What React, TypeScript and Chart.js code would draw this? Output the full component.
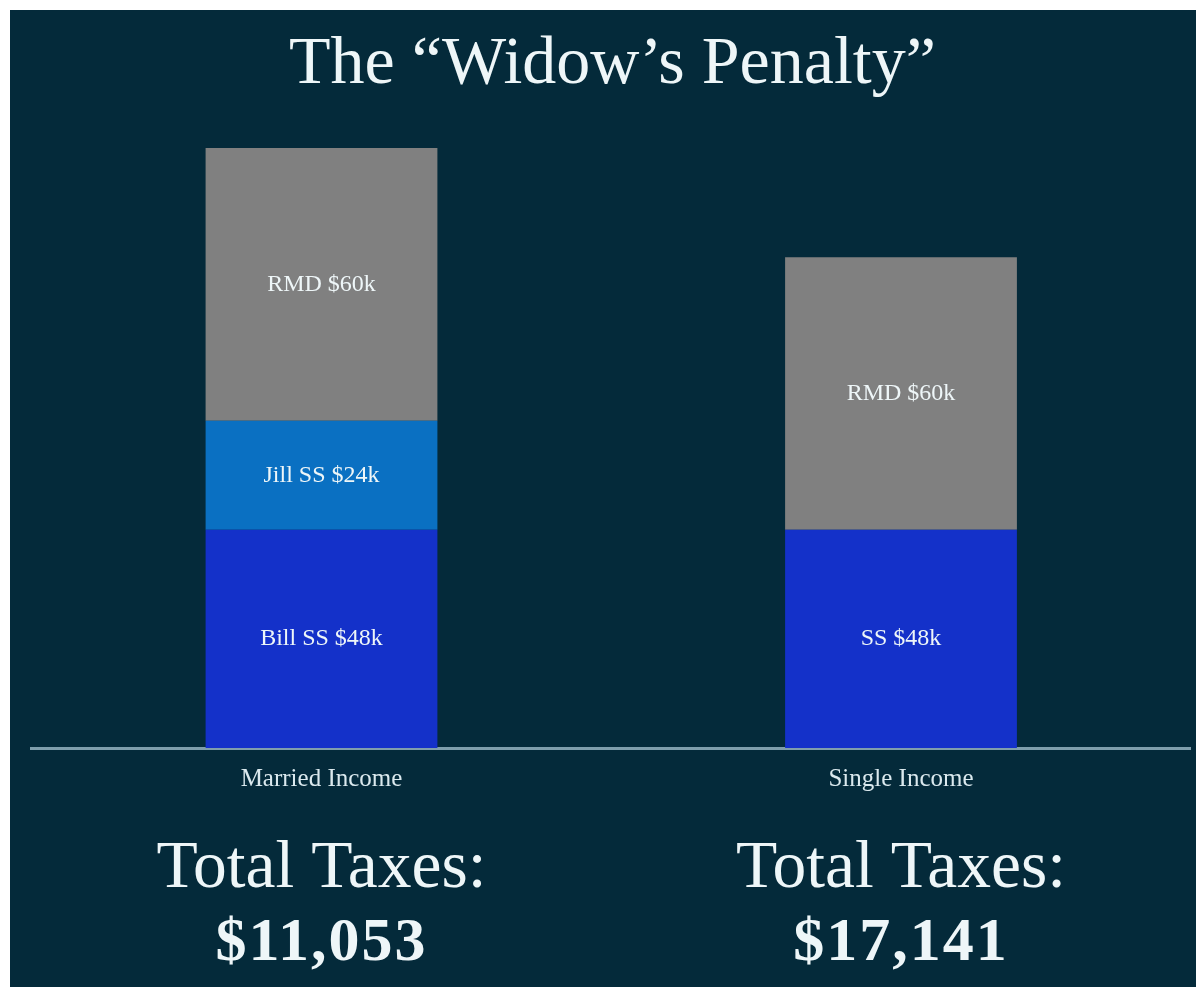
import React, { useEffect, useRef } from "react";
import { Chart, registerables } from "chart.js";

Chart.register(...registerables);

const chartTitle = "The \u201CWidow\u2019s Penalty\u201D";
const categories = ["Married Income", "Single Income"];
const ssValues = [48, 48];
const ssLabels = ["Bill SS $48k", "SS $48k"];
const jillValues = [24, 0];
const jillLabels = ["Jill SS $24k", ""];
const rmdValues = [60, 60];
const rmdLabels = ["RMD $60k", "RMD $60k"];
const taxCaption = "Total Taxes:";
const taxValues = ["$11,053", "$17,141"];

const BG = "#042a3a";
const TEXT = "#eef6f8";
const SERIF = "'Liberation Serif', 'Times New Roman', serif";

const W = 1186;
const H = 977;

export default function App() {
  const ref = useRef<HTMLCanvasElement | null>(null);

  useEffect(() => {
    if (!ref.current) return;
    const segmentLabels = [ssLabels, jillLabels, rmdLabels];

    const overlay = {
      id: "overlay",
      afterDatasetsDraw(chart: any) {
        const ctx = chart.ctx;
        ctx.save();
        // segment labels
        ctx.fillStyle = TEXT;
        ctx.font = `24px ${SERIF}`;
        ctx.textAlign = "center";
        ctx.textBaseline = "middle";
        chart.data.datasets.forEach((ds: any, di: number) => {
          const meta = chart.getDatasetMeta(di);
          meta.data.forEach((el: any, i: number) => {
            const v = ds.data[i];
            const label = segmentLabels[di][i];
            if (!v || !label) return;
            const p = el.getProps(["x", "y", "base"], true);
            ctx.fillText(label, p.x, (p.y + p.base) / 2);
          });
        });
        // title
        ctx.font = `68px ${SERIF}`;
        ctx.textBaseline = "alphabetic";
        ctx.fillText(chartTitle, 602.5, 73);
        // taxes
        const xs = chart.scales.x;
        categories.forEach((_c: string, i: number) => {
          const x = xs.getPixelForValue(i);
          ctx.font = `67.5px ${SERIF}`;
          (ctx as any).letterSpacing = "0px";
          ctx.fillText(taxCaption, x, 877);
          ctx.font = `bold 62px ${SERIF}`;
          (ctx as any).letterSpacing = "2px";
          ctx.fillText(taxValues[i], x, 950);
        });
        (ctx as any).letterSpacing = "0px";
        ctx.restore();
      },
    };

    const chart = new Chart(ref.current, {
      type: "bar",
      data: {
        labels: categories,
        datasets: [
          { label: "Social Security", data: ssValues, backgroundColor: "#1431c9", stack: "a", borderWidth: 0 },
          { label: "Jill SS", data: jillValues, backgroundColor: "#0a70c2", stack: "a", borderWidth: 0 },
          { label: "RMD", data: rmdValues, backgroundColor: "#808080", stack: "a", borderWidth: 0 },
        ],
      },
      options: {
        animation: false,
        responsive: false,
        devicePixelRatio: 1,
        layout: { padding: { left: 21.75, right: 5.25, top: 101.7, bottom: 0 } },
        datasets: { bar: { categoryPercentage: 0.5, barPercentage: 0.8 } },
        plugins: {
          legend: { display: false },
          title: { display: false },
          tooltip: { enabled: false },
        },
        scales: {
          x: {
            stacked: true,
            grid: { display: false, drawTicks: false },
            border: { display: true, color: "#7f9eac", width: 3 },
            ticks: {
              color: "#dbe9ee",
              font: { family: SERIF, size: 25 },
              padding: 16,
            },
            afterFit: (scale: any) => {
              scale.height = 239;
            },
          },
          y: {
            stacked: true,
            display: false,
            min: 0,
            max: 140,
          },
        },
      },
      plugins: [overlay],
    });
    return () => chart.destroy();
  }, []);

  return (
    <div
      style={{
        position: "fixed",
        left: 10,
        top: 10,
        right: 0,
        bottom: 0,
        background: BG,
        overflow: "hidden",
      }}
    >
      <canvas ref={ref} width={W} height={H} style={{ display: "block", width: W, height: H }} />
    </div>
  );
}
